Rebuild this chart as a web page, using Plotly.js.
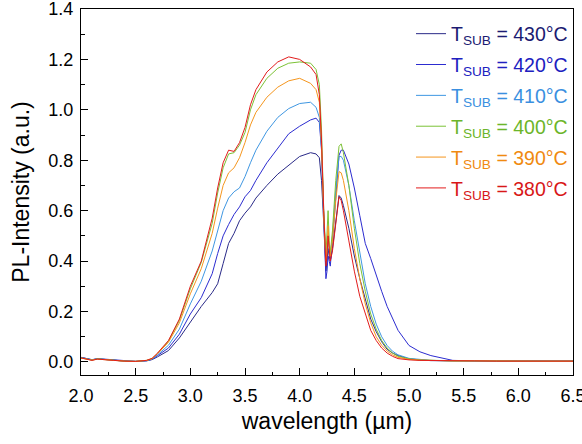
<!DOCTYPE html>
<html>
<head>
<meta charset="utf-8">
<script src="https://cdn.plot.ly/plotly-3.0.1.min.js"></script>
<style>html,body{margin:0;padding:0;background:#fff;overflow:hidden;}#chart{width:582px;height:444px;}</style>
</head>
<body>
<div id="chart"></div>
<script>
const wavelength = [2.0,2.05,2.1,2.15,2.2,2.3,2.4,2.5,2.6,2.65,2.7,2.8,2.9,3.0,3.1,3.2,3.25,3.3,3.35,3.4,3.45,3.5,3.55,3.6,3.7,3.8,3.9,4.0,4.1,4.15,4.18,4.2,4.22,4.24,4.25,4.26,4.27,4.28,4.3,4.33,4.36,4.38,4.4,4.45,4.5,4.55,4.6,4.65,4.7,4.75,4.8,4.85,4.9,5.0,5.1,5.2,5.4,5.6,5.8,6.0,6.2,6.5];

const t430 = [0.018,0.014,0.009,0.012,0.011,0.007,0.003,0.002,0.004,0.009,
  0.02,0.045,0.095,0.16,0.22,
  0.275,0.31,0.39,0.47,0.51,
  0.56,0.59,0.615,0.65,0.70,
  0.745,0.78,0.815,0.83,0.825,
  0.81,0.72,0.55,0.36,0.40,
  0.45,0.42,0.40,0.45,0.56,
  0.66,0.65,0.62,0.53,0.42,
  0.33,0.25,0.17,0.12,0.08,
  0.05,0.035,0.025,0.012,0.008,
  0.005,0.004,0.004,0.003,0.003,
  0.003,0.003];
const t420 = [0.018,0.014,0.008,0.013,0.011,0.007,0.003,0.002,0.005,0.010,
  0.025,0.055,0.11,0.19,0.255,
  0.35,0.43,0.50,0.545,0.585,
  0.615,0.655,0.68,0.72,0.79,
  0.85,0.905,0.935,0.96,0.967,
  0.95,0.84,0.60,0.33,0.36,
  0.42,0.40,0.38,0.48,0.66,
  0.82,0.84,0.84,0.785,0.69,
  0.58,0.47,0.41,0.34,0.28,
  0.22,0.17,0.125,0.065,0.04,
  0.025,0.006,0.004,0.003,0.003,
  0.003,0.003];
const t410 = [0.017,0.013,0.008,0.012,0.010,0.007,0.003,0.002,0.005,0.011,
  0.028,0.066,0.13,0.23,0.32,
  0.44,0.52,0.60,0.65,0.675,
  0.69,0.735,0.79,0.84,0.915,
  0.97,1.005,1.025,1.03,1.01,
  0.97,0.85,0.58,0.40,0.45,
  0.50,0.44,0.42,0.50,0.68,
  0.815,0.815,0.80,0.70,0.56,
  0.43,0.31,0.22,0.15,0.10,
  0.065,0.042,0.028,0.014,0.009,
  0.006,0.004,0.004,0.003,0.003,
  0.003,0.003];
const t400 = [0.016,0.013,0.007,0.012,0.010,0.006,0.003,0.002,0.006,0.013,
  0.033,0.082,0.165,0.29,0.395,
  0.55,0.67,0.77,0.825,0.83,
  0.86,0.91,1.00,1.06,1.125,
  1.165,1.185,1.19,1.185,1.16,
  1.10,0.92,0.60,0.42,0.50,
  0.60,0.48,0.43,0.52,0.72,
  0.855,0.865,0.83,0.70,0.53,
  0.39,0.28,0.19,0.13,0.085,
  0.055,0.035,0.022,0.012,0.008,
  0.006,0.004,0.004,0.003,0.003,
  0.003,0.003];
const t390 = [0.015,0.012,0.007,0.011,0.010,0.006,0.003,0.002,0.006,0.013,
  0.032,0.078,0.155,0.27,0.37,
  0.51,0.61,0.70,0.75,0.77,
  0.81,0.87,0.94,0.99,1.05,
  1.09,1.115,1.125,1.105,1.08,
  1.03,0.86,0.58,0.40,0.45,
  0.54,0.46,0.42,0.48,0.64,
  0.755,0.75,0.72,0.60,0.45,
  0.33,0.23,0.155,0.10,0.066,
  0.043,0.028,0.018,0.010,0.007,
  0.005,0.004,0.004,0.003,0.003,
  0.003,0.003];
const t380 = [0.016,0.012,0.006,0.011,0.010,0.006,0.003,0.002,0.006,0.014,
  0.035,0.085,0.17,0.30,0.40,
  0.57,0.69,0.79,0.84,0.835,
  0.87,0.93,1.02,1.08,1.15,
  1.19,1.21,1.20,1.17,1.14,
  1.06,0.88,0.60,0.38,0.42,
  0.50,0.45,0.40,0.44,0.56,
  0.655,0.64,0.60,0.48,0.36,
  0.26,0.19,0.125,0.085,0.055,
  0.035,0.022,0.013,0.008,0.006,
  0.005,0.004,0.004,0.003,0.003,
  0.003,0.003];

const temps = ['430','420','410','400','390','380'];
const seriesVals = [t430,t420,t410,t400,t390,t380];
const lineColors = ['#2a2a88','#2c2cd0','#3f97e2','#7cc236','#f5961e','#e21c1c'];
const textColors = ['#1b1b72','#2020c0','#3a8fe0','#6cb52a','#f08a10','#d81818'];

const traces = temps.map((t,i) => ({
  x: wavelength,
  y: seriesVals[i],
  type: 'scatter',
  mode: 'lines',
  legendgroup: 'g' + t,
  line: {color: lineColors[i], width: 1},
  name: '<span style="color:' + textColors[i] + '">T<sub>SUB</sub> = ' + t + '°C</span>'
}));

const FAM = 'Liberation Sans, Arial, sans-serif';
const axisFont = {family: FAM, size: 18, color: '#000'};

const layout = {
  width: 582, height: 444,
  margin: {l: 81, r: 9, t: 9, b: 69},
  paper_bgcolor: '#fff', plot_bgcolor: '#fff',
  showlegend: true,
  legend: {
    x: 1, xanchor: 'right', y: 0.985, yanchor: 'top',
    bgcolor: 'rgba(0,0,0,0)',
    font: {family: FAM, size: 19.5, color: '#000'},
    tracegroupgap: 2.5,
    traceorder: 'grouped'
  },
  xaxis: {
    range: [2.0, 6.5], dtick: 0.5, tick0: 2.0, tickformat: '.1f',
    ticks: 'inside', ticklen: 7, tickwidth: 1, tickcolor: '#000',
    minor: {dtick: 0.25, ticks: 'inside', ticklen: 3.5, tickcolor: '#000'},
    showline: true, linecolor: '#000', linewidth: 1, mirror: true,
    showgrid: false, zeroline: false,
    tickfont: axisFont, ticklabeloverflow: 'allow', ticklabelstandoff: 4,
    automargin: 'bottom',
    title: {text: 'wavelength (µm)', font: {family: FAM, size: 23, color: '#000'}, standoff: 8}
  },
  yaxis: {
    range: [-0.052, 1.4], dtick: 0.2, tick0: 0, tickformat: '.1f',
    ticks: 'inside', ticklen: 7, tickwidth: 1, tickcolor: '#000',
    minor: {dtick: 0.1, ticks: 'inside', ticklen: 3.5, tickcolor: '#000'},
    showline: true, linecolor: '#000', linewidth: 1, mirror: true,
    showgrid: false, zeroline: false,
    tickfont: axisFont, ticklabeloverflow: 'allow', ticklabelstandoff: 3,
    automargin: 'left',
    title: {text: 'PL-Intensity (a.u.)', font: {family: FAM, size: 23, color: '#000'}, standoff: 12}
  }
};

Plotly.newPlot('chart', traces, layout, {displayModeBar: false, staticPlot: true});
</script>
</body>
</html>
